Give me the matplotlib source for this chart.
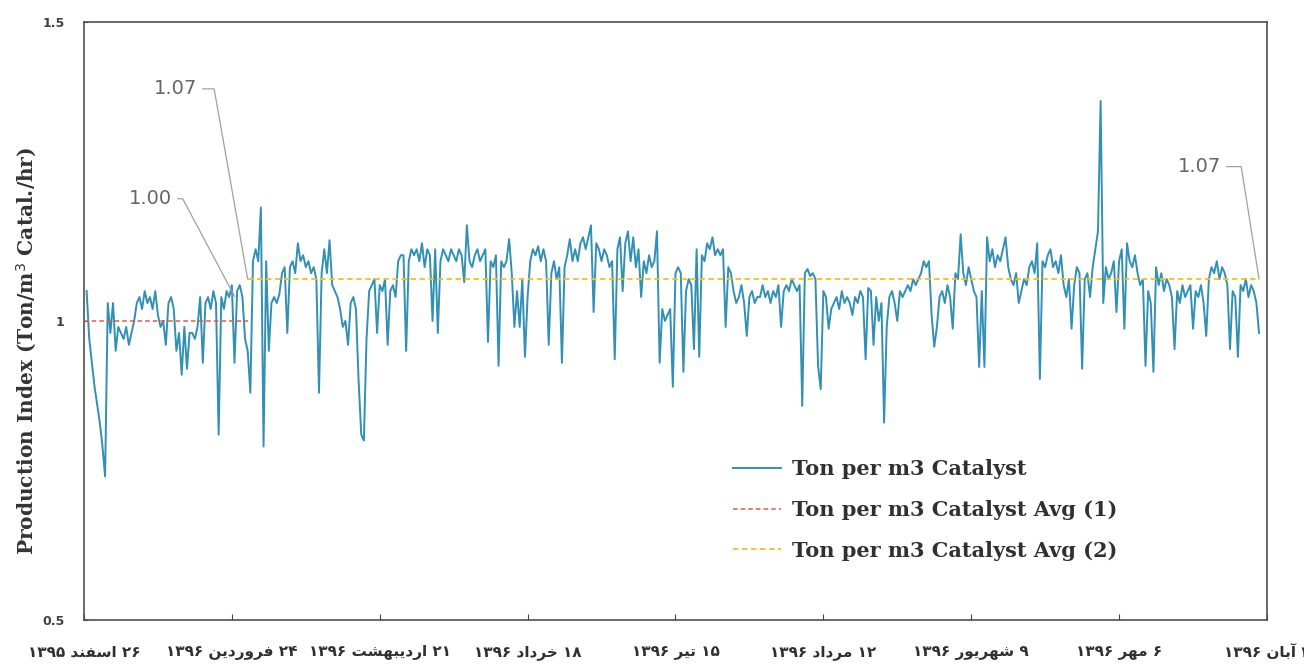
import numpy as np
import pandas as pd
import matplotlib
matplotlib.use("Agg")
import matplotlib.pyplot as plt

# production index, one reading every 12 h starting 16 Mar 2017 12:00
ton_per_m3 = [
    1.05, 0.97, 0.93, 0.89, 0.86, 0.83, 0.79, 0.74, 1.03, 0.98,
    1.03, 0.95, 0.99, 0.98, 0.97, 0.99, 0.96, 0.98, 1.00, 1.03,
    1.04, 1.02, 1.05, 1.03, 1.04, 1.02, 1.05, 1.01, 0.99, 1.00,
    0.96, 1.03, 1.04, 1.02, 0.95, 0.98, 0.91, 0.99, 0.92, 0.98,
    0.98, 0.97, 0.99, 1.04, 0.93, 1.03, 1.04, 1.02, 1.05, 1.03,
    0.81, 1.04, 1.02, 1.05, 1.04, 1.06, 0.93, 1.05, 1.06, 1.04,
    0.97, 0.95, 0.88, 1.10, 1.12, 1.10, 1.19, 0.79, 1.10, 0.95,
    1.03, 1.04, 1.03, 1.045, 1.08, 1.09, 0.98, 1.09, 1.10, 1.08,
    1.13, 1.10, 1.11, 1.09, 1.10, 1.08, 1.09, 1.07, 0.88, 1.08,
    1.12, 1.08, 1.135, 1.06, 1.05, 1.04, 1.02, 0.99, 1.00, 0.96,
    1.03, 1.04, 1.02, 0.90, 0.81, 0.80, 0.97, 1.05, 1.06, 1.07,
    0.98, 1.06, 1.05, 1.07, 0.96, 1.05, 1.06, 1.04, 1.10, 1.11,
    1.11, 0.95, 1.10, 1.12, 1.11, 1.12, 1.10, 1.13, 1.09, 1.12,
    1.11, 1.00, 1.12, 0.98, 1.10, 1.12, 1.11, 1.10, 1.12, 1.11,
    1.10, 1.12, 1.11, 1.065, 1.16, 1.10, 1.09, 1.11, 1.12, 1.10,
    1.11, 1.12, 0.965, 1.10, 1.09, 1.11, 0.925, 1.10, 1.09, 1.10,
    1.137, 1.08, 0.99, 1.05, 0.99, 1.07, 0.94, 1.04, 1.10, 1.12,
    1.11, 1.125, 1.10, 1.12, 1.10, 0.96, 1.08, 1.10, 1.07, 1.09,
    0.93, 1.09, 1.11, 1.137, 1.10, 1.12, 1.10, 1.13, 1.14, 1.12,
    1.14, 1.16, 1.015, 1.13, 1.12, 1.10, 1.12, 1.11, 1.09, 1.10,
    0.936, 1.12, 1.14, 1.05, 1.13, 1.15, 1.10, 1.14, 1.09, 1.12,
    1.04, 1.10, 1.08, 1.11, 1.09, 1.10, 1.15, 0.93, 1.02, 1.00,
    1.01, 1.02, 0.89, 1.08, 1.09, 1.08, 0.915, 1.05, 1.07, 1.06,
    0.953, 1.12, 0.94, 1.11, 1.10, 1.13, 1.12, 1.14, 1.11, 1.12,
    1.11, 1.12, 0.99, 1.09, 1.08, 1.05, 1.03, 1.04, 1.06, 1.03,
    0.975, 1.04, 1.05, 1.03, 1.04, 1.04, 1.06, 1.04, 1.05, 1.03,
    1.05, 1.04, 1.06, 0.99, 1.05, 1.06, 1.05, 1.07, 1.06, 1.05,
    1.06, 0.858, 1.08, 1.087, 1.075, 1.08, 1.07, 0.925, 0.886, 1.05,
    1.04, 0.987, 1.02, 1.03, 1.04, 1.02, 1.05, 1.03, 1.04, 1.03,
    1.01, 1.04, 1.03, 1.05, 1.04, 0.936, 1.055, 1.05, 0.96, 1.04,
    1.00, 1.03, 0.83, 0.99, 1.04, 1.05, 1.03, 1.00, 1.05, 1.04,
    1.05, 1.06, 1.05, 1.07, 1.06, 1.07, 1.08, 1.10, 1.09, 1.10,
    1.01, 0.957, 0.99, 1.04, 1.05, 1.03, 1.06, 1.04, 0.987, 1.08,
    1.07, 1.145, 1.08, 1.06, 1.09, 1.07, 1.05, 1.04, 0.923, 1.05,
    0.923, 1.14, 1.10, 1.12, 1.09, 1.11, 1.10, 1.12, 1.14, 1.09,
    1.07, 1.06, 1.08, 1.03, 1.05, 1.07, 1.06, 1.09, 1.10, 1.08,
    1.13, 0.903, 1.10, 1.09, 1.11, 1.12, 1.09, 1.10, 1.08, 1.11,
    1.06, 1.04, 1.07, 0.987, 1.06, 1.09, 1.08, 0.92, 1.07, 1.08,
    1.04, 1.09, 1.12, 1.15, 1.368, 1.03, 1.09, 1.07, 1.08, 1.10,
    1.015, 1.10, 1.12, 0.987, 1.13, 1.10, 1.09, 1.11, 1.08, 1.06,
    1.07, 0.925, 1.05, 1.03, 0.915, 1.09, 1.06, 1.08, 1.05, 1.07,
    1.06, 1.04, 0.953, 1.05, 1.03, 1.06, 1.04, 1.05, 1.06, 0.987,
    1.05, 1.04, 1.06, 1.03, 0.975, 1.07, 1.09, 1.08, 1.10, 1.07,
    1.09, 1.08, 1.06, 0.953, 1.05, 1.04, 0.94, 1.06, 1.05, 1.07,
    1.04, 1.06, 1.05, 1.03, 0.98,
]
series_start = "2017-03-16 12:00"

avg1_dates = ["2017-03-16 00:00", "2017-04-16 00:00"]
avg1_vals = [1.00, 1.00]
avg2_dates = ["2017-04-16 00:00", "2017-10-24 12:00"]
avg2_vals = [1.07, 1.07]

tick_dates = ["2017-03-16", "2017-04-13", "2017-05-11", "2017-06-08", "2017-07-06",
              "2017-08-03", "2017-08-31", "2017-09-28", "2017-10-26"]
tick_labels = ["۲۶ اسفند ۱۳۹۵", "۲۴ فروردین ۱۳۹۶", "۲۱ اردیبهشت ۱۳۹۶",
               "۱۸ خرداد ۱۳۹۶", "۱۵ تیر ۱۳۹۶", "۱۲ مرداد ۱۳۹۶",
               "۹ شهریور ۱۳۹۶", "۶ مهر ۱۳۹۶", "۴ آبان ۱۳۹۶"]

# matplotlib has no arabic shaping, so pick presentation forms by hand
# (isolated, final, initial, medial)
FORMS = {
    "ا": ("\uFE8D", "\uFE8E", None, None),
    "آ": ("\uFE81", "\uFE82", None, None),
    "ب": ("\uFE8F", "\uFE90", "\uFE91", "\uFE92"),
    "ت": ("\uFE95", "\uFE96", "\uFE97", "\uFE98"),
    "خ": ("\uFEA5", "\uFEA6", "\uFEA7", "\uFEA8"),
    "د": ("\uFEA9", "\uFEAA", None, None),
    "ر": ("\uFEAD", "\uFEAE", None, None),
    "س": ("\uFEB1", "\uFEB2", "\uFEB3", "\uFEB4"),
    "ش": ("\uFEB5", "\uFEB6", "\uFEB7", "\uFEB8"),
    "ف": ("\uFED1", "\uFED2", "\uFED3", "\uFED4"),
    "م": ("\uFEE1", "\uFEE2", "\uFEE3", "\uFEE4"),
    "ن": ("\uFEE5", "\uFEE6", "\uFEE7", "\uFEE8"),
    "ه": ("\uFEE9", "\uFEEA", "\uFEEB", "\uFEEC"),
    "و": ("\uFEED", "\uFEEE", None, None),
    "ی": ("\uFBFC", "\uFBFD", "\uFBFE", "\uFBFF"),
}


def shape(word):
    out = []
    for i, ch in enumerate(word):
        f = FORMS.get(ch)
        if f is None:
            out.append(ch)
            continue
        prev = FORMS.get(word[i - 1]) if i > 0 else None
        nxt = FORMS.get(word[i + 1]) if i < len(word) - 1 else None
        jp = prev is not None and prev[2] is not None
        jn = f[2] is not None and nxt is not None
        out.append(f[3] if jp and jn else f[1] if jp else f[2] if jn else f[0])
    return "".join(out)


def rtl(text):
    vis = []
    for w in reversed(text.split(" ")):
        vis.append(shape(w)[::-1] if w[0] in FORMS else w)
    return " ".join(vis)


times = pd.date_range(series_start, periods=len(ton_per_m3), freq="12h")

fig = plt.figure(figsize=(13.04, 6.68), dpi=100)
ax = fig.add_axes([0.0644, 0.072, 0.9072, 0.895])

ax.plot(times, ton_per_m3, color="#3190b3", lw=1.4, label="Ton per m3 Catalyst", zorder=2)
ax.plot(pd.to_datetime(avg1_dates), avg1_vals, color="#e05a50", lw=1.1, ls=(0, (3, 2)),
        label="Ton per m3 Catalyst Avg (1)", zorder=3)
ax.plot(pd.to_datetime(avg2_dates), avg2_vals, color="#f2c21b", lw=1.3, ls=(0, (3, 2)),
        label="Ton per m3 Catalyst Avg (2)", zorder=3)

ax.set_ylim(0.5, 1.5)
ax.set_yticks([0.5, 1.0, 1.5])
ax.set_yticklabels(["0.5", "1", "1.5"], fontsize=9, fontweight="bold", color="#404040")
ax.set_xlim(pd.Timestamp(tick_dates[0]), pd.Timestamp(tick_dates[-1]))
ax.set_xticks(pd.to_datetime(tick_dates))
ax.set_xticklabels([rtl(t) for t in tick_labels], fontsize=11, fontweight="bold",
                   family="DejaVu Sans", color="#303030")
ax.tick_params(axis="x", direction="in", length=4, pad=18, color="#404040")
ax.tick_params(axis="y", direction="in", length=3, pad=14, color="#404040")
for s in ax.spines.values():
    s.set_color("#505050")
    s.set_linewidth(1.2)

ax.set_ylabel("Production Index (Ton/m$^3$ Catal./hr)", family="DejaVu Serif",
              fontweight="bold", fontsize=14.5, color="#333333")
ax.yaxis.set_label_coords(-0.038, 0.45)

# data labels with excel style leader lines
ann = dict(fontsize=14, color="#666666", family="DejaVu Sans", textcoords="offset points",
           ha="center", va="center")
ax.annotate("%.2f" % avg1_vals[-1], xy=(pd.Timestamp(avg1_dates[-1]), avg1_vals[-1]),
            xytext=(-70, 88),
            arrowprops=dict(arrowstyle="-", color="#a0a0a0", lw=0.9, relpos=(1, 0.5),
                            shrinkB=20, connectionstyle="angle,angleA=0,angleB=118,rad=0"),
            **ann)
ax.annotate("%.2f" % avg2_vals[0], xy=(pd.Timestamp(avg2_dates[0]), avg2_vals[0]),
            xytext=(-52, 137),
            arrowprops=dict(arrowstyle="-", color="#a0a0a0", lw=0.9, relpos=(1, 0.5),
                            shrinkB=0, connectionstyle="angle,angleA=0,angleB=100,rad=0"),
            **ann)
ax.annotate("%.2f" % avg2_vals[-1], xy=(pd.Timestamp(avg2_dates[-1]), avg2_vals[-1]),
            xytext=(-43, 81),
            arrowprops=dict(arrowstyle="-", color="#a0a0a0", lw=0.9, relpos=(1, 0.5),
                            shrinkB=0, connectionstyle="angle,angleA=0,angleB=99,rad=0"),
            **ann)

ax.legend(loc="upper left", bbox_to_anchor=(0.542, 0.283), borderaxespad=0, frameon=False,
          prop={"family": "DejaVu Serif", "weight": "bold", "size": 15},
          handlelength=2.3, handletextpad=0.5, labelspacing=1.0, labelcolor="#303030")

fig.savefig("out.png", dpi=100)
